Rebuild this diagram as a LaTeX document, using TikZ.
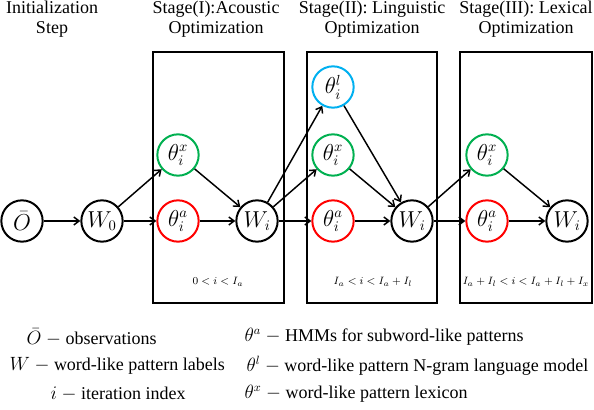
\documentclass[tikz,border=0pt]{standalone}
\usepackage{fontspec}
\setmainfont{Liberation Serif}
\usetikzlibrary{arrows.meta}
\definecolor{acred}{RGB}{255,0,0}
\definecolor{lexgreen}{RGB}{0,176,80}
\definecolor{lmblue}{RGB}{0,176,240}

\begin{document}
\begin{tikzpicture}[x=0.75pt, y=-0.75pt,
  every node/.style={font=\fontsize{12}{13.5}\selectfont},
  title/.style={align=center, font=\fontsize{13.5}{15}\selectfont},
  var/.style={circle, draw, line width=1.5pt, minimum size=31pt, inner sep=0pt, font=\fontsize{16}{18}\selectfont},
  stagebox/.style={line width=1.8pt},
  flow/.style={-{Straight Barb[length=4pt,width=6pt]}, line width=1.1pt},
  iterlabel/.style={font=\fontsize{8}{9}\selectfont},
  legend/.style={anchor=west, font=\fontsize{13.5}{15}\selectfont}]
  \useasboundingbox (0,0) rectangle (594,410);

  % Titles
  \node[title] (tinit) at (52,19) {Initialization\\Step};
  \node[title] (tac) at (216,19) {Stage(I):Acoustic\\Optimization};
  \node[title] (tling) at (372,19) {Stage(II): Linguistic\\Optimization};
  \node[title] (tlex) at (526,19) {Stage(III): Lexical\\Optimization};

  % Stage boxes
  \draw[stagebox] (153,52) rectangle (284,303);
  \draw[stagebox] (307,52) rectangle (437,303);
  \draw[stagebox] (460,52) rectangle (592,303);
  \node[iterlabel] (r1) at (218,282) {$0 < i < I_a$};
  \node[iterlabel] (r2) at (373,282) {$I_a < i < I_a + I_l$};
  \node[iterlabel] (r3) at (526,282) {$I_a + I_l < i < I_a + I_l + I_x$};

  % Initialization
  \node[var] (obs) at (22,221) {$\bar{O}$};
  \node[var] (w0) at (102,221) {$W_0$};

  % Stage I
  \node[var, draw=lexgreen] (x1) at (178,155) {$\theta_i^x$};
  \node[var, draw=acred] (a1) at (178,221) {$\theta_i^a$};
  \node[var] (w1) at (257,221) {$W_i$};

  % Stage II
  \node[var, draw=lmblue] (l2) at (333,87) {$\theta_i^l$};
  \node[var, draw=lexgreen] (x2) at (333,155) {$\theta_i^x$};
  \node[var, draw=acred] (a2) at (333,221) {$\theta_i^a$};
  \node[var] (w2) at (412,221) {$W_i$};

  % Stage III
  \node[var, draw=lexgreen] (x3) at (487,155) {$\theta_i^x$};
  \node[var, draw=acred] (a3) at (487,221) {$\theta_i^a$};
  \node[var] (w3) at (567,221) {$W_i$};

  % Arrows
  \draw[flow] (obs) -- (w0);
  \draw[flow] (w0) -- (x1);
  \draw[flow] (w0) -- (a1);
  \draw[flow] (x1) -- (w1);
  \draw[flow] (a1) -- (w1);
  \draw[flow] (w1) -- (l2);
  \draw[flow] (w1) -- (x2);
  \draw[flow] (w1) -- (a2);
  \draw[flow] (l2) -- (w2);
  \draw[flow] (x2) -- (w2);
  \draw[flow] (a2) -- (w2);
  \draw[flow] (w2) -- (x3);
  \draw[flow] (w2) -- (a3);
  \draw[flow] (x3) -- (w3);
  \draw[flow] (a3) -- (w3);

  % Legend
  \node[legend] (lobs) at (22,337) {$\bar{O}$ $-$ observations};
  \node[legend] (lw) at (5,366) {$W$ $-$ word-like pattern labels};
  \node[legend] (li) at (46,394) {$i$ $-$ iteration index};
  \node[legend] (la) at (240,337) {$\theta^a$ $-$ HMMs for subword-like patterns};
  \node[legend] (ll) at (242,366) {$\theta^l$ $-$ word-like pattern N-gram language model};
  \node[legend] (lx) at (240,394) {$\theta^x$ $-$ word-like pattern lexicon};
\end{tikzpicture}
\end{document}
